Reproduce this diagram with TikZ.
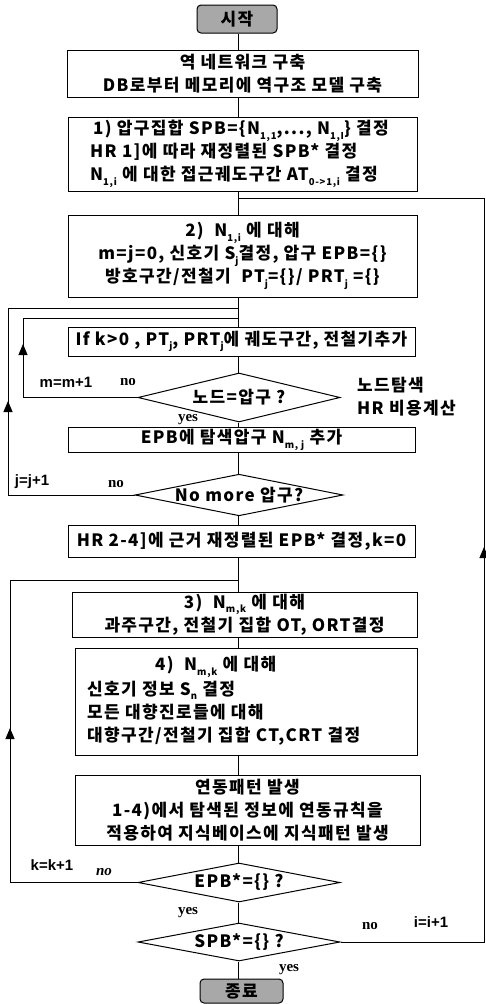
\documentclass[tikz,border=0pt]{standalone}
\usepackage{fontspec}
\setmainfont{Noto Sans CJK KR}[LetterSpace=8]
\newfontfamily\arialf{Liberation Sans}
\newfontfamily\timesf{Liberation Serif}
\usetikzlibrary{shapes.geometric,arrows.meta}
\newcommand\kf{\fontsize{17}{23}\selectfont\bfseries}
\newcommand\lo[1]{\raisebox{-0.5ex}{\fontsize{9.5}{9.5}\selectfont #1}}
\tikzset{
  ln/.style={line width=1pt},
  box/.style={draw, line width=1pt, inner sep=0pt, align=center, font=\kf},
  dia/.style={draw, diamond, aspect=5, line width=1pt, inner sep=0pt, font=\kf, minimum width=202pt, minimum height=40pt},
  term/.style={draw, line width=1pt, rounded corners=4pt, fill=gray!68, inner sep=0pt, font=\kf},
  txt/.style={inner sep=0pt, font=\kf},
  lab/.style={inner sep=0pt, font=\fontsize{15}{17}\selectfont\arialf\bfseries},
  yn/.style={inner sep=0pt, font=\fontsize{15}{17}\selectfont\timesf\bfseries},
  tip/.style={-{Triangle[length=11pt,width=9pt]}, line width=1pt},
}
\begin{document}
\begin{tikzpicture}[x=1pt,y=-1pt]
\useasboundingbox (0,0) rectangle (486,1004);
% nodes
\node[term, minimum width=80pt, minimum height=28pt] (start) at (237,19) {시작};
\node[box, minimum width=351pt, minimum height=47pt] (A) at (242.5,73.5) {역 네트워크 구축\\DB로부터 메모리에 역구조 모델 구축};
\node[box, minimum width=349pt, minimum height=74pt] (B1) at (242.5,154) {};
\node[txt, anchor=west, align=left] (B1t) at (90,154) {\hspace*{3pt}1) 압구집합 SPB=\{N\lo{1,1},..., N\lo{1,I}\} 결정\\HR 1]에 따라 재정렬된 SPB* 결정\\N\lo{1,i} 에 대한 접근궤도구간 AT\lo{0->1,i} 결정};
\node[box, minimum width=349pt, minimum height=82pt] (B2) at (242.5,256) {2)~~N\lo{1,i} 에 대해\\m=j=0, 신호기 S\lo{j}결정, 압구 EPB=\{\}\\방호구간/전철기~~PT\lo{j}=\{\}/ PRT\lo{j} =\{\}};
\node[box, minimum width=347pt, minimum height=29pt] (C) at (241.5,341.5) {If k>0 , PT\lo{j}, PRT\lo{j}에 궤도구간, 전철기추가};
\node[dia, minimum height=49pt] (D1) at (239,397.5) {노드=압구 ?};
\node[box, minimum width=347pt, minimum height=25pt] (E) at (241.5,440) {EPB에 탐색압구 N\lo{m, j} 추가};
\node[dia] (D2) at (239,495) {No more 압구?};
\node[box, minimum width=347pt, minimum height=32pt] (F) at (241.5,541) {HR 2-4]에 근거 재정렬된 EPB* 결정,k=0};
\node[box, minimum width=345pt, minimum height=45pt] (G) at (244.5,614.5) {3)~~N\lo{m,k} 에 대해\\과주구간, 전철기 집합 OT, ORT결정};
\node[box, minimum width=342pt, minimum height=107pt] (H) at (246,701.5) {};
\node[txt, anchor=west] (H1) at (155,667) {4)~~N\lo{m,k} 에 대해};
\node[txt, anchor=west, align=left] (H2) at (87,713) {신호기 정보 S\lo{\itshape n} 결정\\모든 대향진로들에 대해\\대향구간/전철기 집합 CT,CRT 결정};
\node[box, minimum width=345pt, minimum height=70pt] (I) at (247.5,810) {연동패턴 발생\\1-4)에서 탐색된 정보에 연동규칙을\\적용하여 지식베이스에 지식패턴 발생};
\node[dia, minimum height=39pt] (D3) at (239,882.5) {EPB*=\{\} ?};
\node[dia, minimum height=38pt] (D4) at (239,942) {SPB*=\{\} ?};
\node[term, minimum width=83pt, minimum height=24pt] (end) at (241.5,991) {종료};
% labels
\node[lab] (mlab) at (66,382) {m=m+1};
\node[yn] (no1) at (128,382) {no};
\node[txt, anchor=west, align=left] (ann) at (357,397) {노드탐색\\HR 비용계산};
\node[yn] (yes1) at (188,420) {yes};
\node[lab] (jlab) at (32,482) {j=j+1};
\node[yn] (no2) at (116,484) {no};
\node[lab] (klab) at (52,865) {k=k+1};
\node[yn, font=\fontsize{15}{17}\selectfont\timesf\bfseries\itshape] (no3) at (104,872) {no};
\node[yn] (yes3) at (188,913) {yes};
\node[yn] (no4) at (370,926) {no};
\node[lab] (ilab) at (431,922) {i=i+1};
\node[yn] (yes4) at (289,970) {yes};
% spine coordinates
\coordinate (sp) at (238,0);
\coordinate (mx) at (23,0);
\coordinate (jx) at (8,0);
\coordinate (kx) at (10,0);
\coordinate (ix) at (484,0);
\coordinate (iy) at (0,198);
\coordinate (jy) at (0,308);
\coordinate (my) at (0,318);
\coordinate (ky) at (0,580);
% main flow
\draw[ln] (sp |- start.south) -- (sp |- A.north);
\draw[ln] (sp |- A.south) -- (sp |- B1.north);
\draw[ln] (sp |- B1.south) -- (sp |- B2.north);
\draw[ln] (sp |- B2.south) -- (sp |- C.north);
\draw[ln] (sp |- C.south) -- (sp |- D1.north);
\draw[ln] (sp |- D1.south) -- (sp |- E.north);
\draw[ln] (sp |- E.south) -- (sp |- D2.north);
\draw[ln] (sp |- D2.south) -- (sp |- F.north);
\draw[ln] (sp |- F.south) -- (sp |- G.north);
\draw[ln] (sp |- G.south) -- (sp |- H.north);
\draw[ln] (sp |- H.south) -- (sp |- I.north);
\draw[ln] (sp |- I.south) -- (sp |- D3.north);
\draw[ln] (sp |- D3.south) -- (sp |- D4.north);
\draw[ln] (sp |- D4.south) -- (sp |- end.north);
% loops
\draw[ln] (D1.west) -- (mx |- D1.west) -- (mx |- my) -- (sp |- my);
\draw[ln] (D2.west) -- (jx |- D2.west) -- (jx |- jy) -- (sp |- jy);
\draw[ln] (D3.west) -- (kx |- D3.west) -- (kx |- ky) -- (sp |- ky);
\draw[ln] (D4.east) -- (ix |- D4.east) -- (ix |- iy) -- (sp |- iy);
% arrow heads
\coordinate (ma) at (23,358); \coordinate (mb) at (23,344);
\coordinate (ja) at (8,415); \coordinate (jb) at (8,401);
\coordinate (ka) at (10,742); \coordinate (kb) at (10,728);
\coordinate (ia) at (484,561); \coordinate (ib) at (484,547);
\draw[tip] (ma) -- (mb);
\draw[tip] (ja) -- (jb);
\draw[tip] (ka) -- (kb);
\draw[tip] (ia) -- (ib);
\end{tikzpicture}
\end{document}
